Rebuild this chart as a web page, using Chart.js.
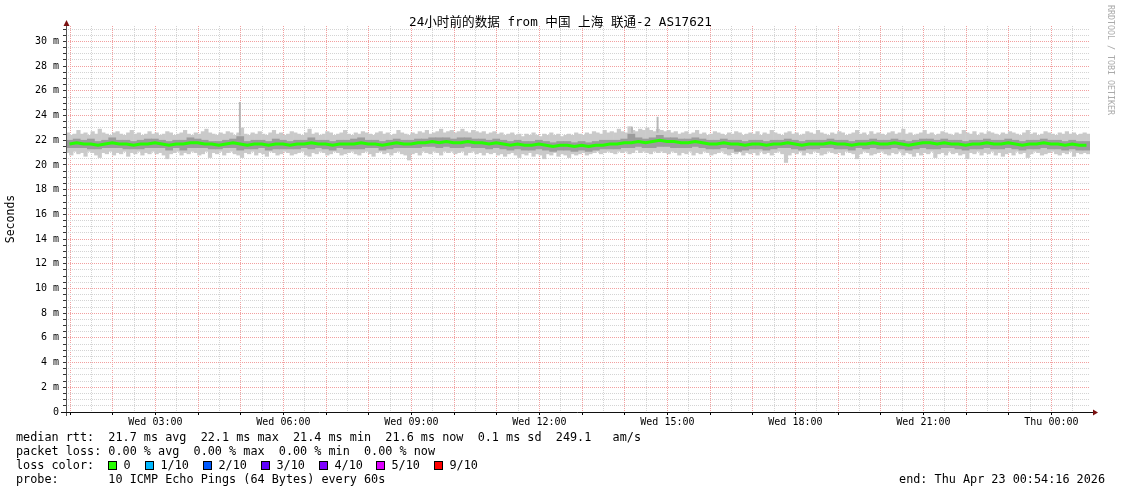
<!DOCTYPE html>
<html>
<head>
<meta charset="utf-8">
<script src="https://cdn.jsdelivr.net/npm/chart.js@4/dist/chart.umd.min.js"></script>
<style>
html, body { margin: 0; padding: 0; background: #fff; }
</style>
</head>
<body>
<canvas id="grafica" width="1121" height="494"></canvas>
<script>
// eje de tiempo en horas desde Wed 00:00
var inicio = 0.9045;   // Wed 00:54:16
var fin = 24.9045;     // Thu 00:54:16
var paso = 1 / 6;      // 10 min por muestra (mediana y nucleo)
var pasoHumo = 1 / 12; // 5 min por muestra (humo)

var ticksX = [3, 6, 9, 12, 15, 18, 21, 24];
var etiquetasX = ["Wed 03:00", "Wed 06:00", "Wed 09:00", "Wed 12:00", "Wed 15:00", "Wed 18:00", "Wed 21:00", "Thu 00:00"];
var ticksY = [0, 2, 4, 6, 8, 10, 12, 14, 16, 18, 20, 22, 24, 26, 28, 30];
var etiquetasY = ["0", "2 m", "4 m", "6 m", "8 m", "10 m", "12 m", "14 m", "16 m", "18 m", "20 m", "22 m", "24 m", "26 m", "28 m", "30 m"];

// mediana rtt (ms)
var mediana = [
  21.7,21.8,21.7,21.7,21.6,21.7,21.8,21.7,21.7,21.6,21.7,21.7,21.8,21.7,21.6,21.7,21.7,21.8,21.8,21.7,21.7,21.6,21.7,21.8,
  21.7,21.6,21.7,21.7,21.6,21.7,21.7,21.6,21.7,21.7,21.8,21.7,21.7,21.6,21.7,21.7,21.7,21.8,21.7,21.7,21.6,21.7,21.8,21.7,
  21.7,21.8,21.8,21.9,21.8,21.9,21.8,21.8,21.9,21.8,21.8,21.7,21.8,21.7,21.6,21.7,21.6,21.6,21.7,21.6,21.5,21.6,21.6,21.5,
  21.6,21.5,21.6,21.6,21.7,21.7,21.8,21.8,21.9,21.8,21.9,22.0,21.9,21.9,21.8,21.8,21.9,21.8,21.7,21.7,21.8,21.7,21.7,21.6,
  21.7,21.7,21.6,21.7,21.7,21.8,21.7,21.6,21.7,21.7,21.7,21.8,21.7,21.7,21.6,21.7,21.7,21.8,21.7,21.7,21.8,21.7,21.6,21.7,
  21.8,21.8,21.7,21.8,21.7,21.7,21.6,21.7,21.7,21.8,21.7,21.7,21.8,21.7,21.6,21.7,21.7,21.8,21.7,21.7,21.6,21.7,21.6,21.6
];

// humo exterior, cada 5 min (max / min)
var humoAlto = [
  22.6,22.4,22.5,22.8,22.5,22.6,22.4,22.7,22.5,22.9,22.6,22.5,22.4,22.6,22.7,22.5,22.4,22.6,22.8,22.5,22.6,22.4,22.5,22.7,
  22.5,22.6,22.4,22.5,22.7,22.6,22.4,22.5,22.6,22.8,22.5,22.4,22.6,22.5,22.7,22.9,22.6,22.5,22.4,22.6,22.5,22.7,22.6,22.4,
  22.6,23.0,22.5,22.4,22.6,22.5,22.7,22.5,22.4,22.6,22.8,22.5,22.6,22.4,22.5,22.7,22.6,22.5,22.4,22.6,22.9,22.5,22.6,22.4,
  22.5,22.7,22.6,22.4,22.5,22.6,22.8,22.5,22.4,22.6,22.5,22.7,22.6,22.5,22.4,22.6,22.7,22.5,22.6,22.4,22.5,22.8,22.6,22.5,
  22.4,22.6,22.5,22.7,22.6,22.8,22.5,22.6,22.7,22.9,22.6,22.7,22.8,22.6,22.7,22.9,22.7,22.6,22.8,22.7,22.6,22.7,22.5,22.6,
  22.7,22.5,22.6,22.4,22.5,22.6,22.4,22.5,22.3,22.5,22.4,22.6,22.4,22.3,22.5,22.4,22.6,22.4,22.5,22.3,22.4,22.5,22.4,22.6,
  22.5,22.4,22.6,22.5,22.7,22.6,22.5,22.8,22.6,22.7,22.6,22.9,22.7,22.6,23.1,22.8,22.7,22.9,22.8,23.0,22.8,22.7,22.9,22.8,
  22.7,22.8,22.6,22.7,22.5,22.6,22.7,22.5,22.6,22.8,22.5,22.6,22.4,22.5,22.7,22.6,22.5,22.4,22.6,22.5,22.7,22.6,22.4,22.5,
  22.6,22.5,22.7,22.4,22.6,22.5,22.8,22.6,22.5,22.4,22.6,22.7,22.5,22.6,22.4,22.5,22.7,22.6,22.5,22.8,22.6,22.5,22.4,22.6,
  22.5,22.7,22.6,22.4,22.5,22.6,22.8,22.5,22.6,22.4,22.7,22.5,22.6,22.5,22.4,22.6,22.7,22.5,22.6,22.9,22.5,22.6,22.4,22.5,
  22.6,22.8,22.5,22.6,22.4,22.5,22.7,22.6,22.5,22.4,22.6,22.5,22.8,22.6,22.5,22.7,22.4,22.6,22.5,22.7,22.6,22.5,22.4,22.6,
  22.5,22.7,22.6,22.5,22.4,22.6,22.8,22.5,22.6,22.4,22.5,22.7,22.6,22.5,22.4,22.6,22.5,22.7,22.5,22.6,22.4,22.5,22.6,22.5
];
var humoBajo = [
  21.0,20.8,21.1,20.9,21.0,20.7,21.1,21.0,20.8,20.6,21.0,20.9,21.1,20.8,21.0,20.9,21.1,20.7,21.0,20.9,21.1,20.8,21.0,20.9,
  21.1,20.9,21.0,20.8,20.5,20.9,21.0,21.1,20.8,21.0,20.9,21.1,21.0,20.8,20.9,21.1,20.6,21.0,20.9,21.1,20.8,21.0,21.1,20.9,
  20.8,20.6,21.0,20.9,21.1,20.8,21.0,20.9,20.7,21.1,21.0,20.8,20.9,21.1,21.0,20.8,20.9,21.0,21.1,20.8,20.7,21.0,20.9,21.1,
  21.0,20.8,20.9,21.1,21.0,20.8,20.9,21.0,21.1,20.9,20.8,21.0,21.1,20.9,20.7,21.0,21.1,20.9,21.0,20.8,21.0,21.1,20.9,20.8,
  20.4,20.9,21.0,20.8,21.1,21.0,20.9,21.1,21.0,20.8,21.1,21.0,21.1,20.9,21.0,21.1,20.8,21.0,21.1,20.9,21.0,20.8,21.0,20.9,
  21.0,20.8,20.9,20.7,20.9,21.0,20.8,20.6,20.9,20.8,21.0,20.7,20.9,20.8,20.5,20.9,20.8,21.0,20.7,20.9,20.8,20.6,20.9,20.8,
  20.9,21.0,20.8,20.9,21.0,21.1,20.9,21.0,21.1,21.0,20.9,21.1,21.0,21.1,20.9,21.0,21.2,21.0,21.1,21.0,20.9,21.1,21.0,21.1,
  21.0,20.9,21.1,21.0,20.8,21.0,20.9,21.1,20.8,21.0,20.9,21.1,21.0,20.8,20.9,21.0,21.1,20.9,20.8,21.0,20.9,21.1,20.8,21.0,
  20.9,21.0,20.8,21.1,20.9,21.0,20.8,21.0,21.1,20.9,20.2,20.8,21.0,20.9,21.1,20.8,21.0,20.9,21.1,21.0,20.8,20.9,21.1,21.0,
  20.9,21.0,20.8,21.1,21.0,20.9,20.5,20.9,21.1,21.0,20.8,20.9,21.0,21.1,20.9,20.8,21.0,20.9,21.1,20.8,21.0,20.9,20.7,21.0,
  20.8,21.0,20.9,21.1,20.6,20.9,21.0,20.8,21.1,20.9,21.0,20.8,20.9,20.5,21.0,20.9,21.1,20.8,21.0,20.9,21.1,20.8,21.0,20.7,
  20.9,21.0,20.8,21.1,20.9,21.0,20.6,20.9,21.1,21.0,20.8,20.9,21.0,21.1,20.9,20.8,21.0,20.9,21.1,20.7,21.0,20.9,21.0,20.9
];

// humo interior (mas oscuro), cada 10 min
var nucleoAlto = [
  22.0,22.1,22.0,22.1,21.9,22.0,22.2,22.0,22.0,21.9,22.0,22.1,22.1,22.0,21.9,22.0,22.0,22.2,22.1,22.0,21.9,21.9,22.0,22.1,
  22.3,21.9,22.0,22.0,21.9,22.1,22.0,21.9,22.0,22.0,22.2,22.0,22.0,21.9,22.0,22.0,22.1,22.2,22.0,22.0,21.9,22.0,22.1,22.0,
  22.0,22.1,22.1,22.2,22.2,22.2,22.1,22.2,22.2,22.1,22.1,22.0,22.1,22.0,21.9,22.0,21.9,21.9,22.0,21.9,21.8,21.9,21.9,21.8,
  21.9,21.8,21.9,22.0,22.0,22.0,22.1,22.5,22.2,22.1,22.2,22.4,22.2,22.2,22.1,22.1,22.2,22.1,22.0,22.0,22.1,22.0,22.0,21.9,
  22.0,22.0,21.9,22.0,22.0,22.1,22.0,21.9,22.0,22.0,22.0,22.1,22.0,22.0,21.9,22.0,22.0,22.1,22.0,22.0,22.1,22.0,21.9,22.0,
  22.1,22.1,22.0,22.1,22.0,22.0,21.9,22.0,22.0,22.1,22.0,22.0,22.1,22.0,21.9,22.0,22.0,22.1,22.0,22.0,21.9,22.0,21.9,21.9
];
var nucleoBajo = [
  21.4,21.4,21.4,21.3,21.3,21.4,21.4,21.4,21.3,21.3,21.3,21.4,21.4,21.4,21.2,21.4,21.2,21.4,21.4,21.4,21.3,21.3,21.4,21.4,
  21.2,21.3,21.3,21.4,21.2,21.3,21.3,21.3,21.3,21.4,21.3,21.4,21.3,21.2,21.4,21.3,21.3,21.3,21.4,21.4,21.2,21.3,21.4,21.4,
  21.4,21.4,21.5,21.5,21.4,21.5,21.4,21.4,21.5,21.4,21.4,21.3,21.4,21.3,21.2,21.3,21.2,21.2,21.3,21.2,21.1,21.2,21.2,21.1,
  21.2,21.1,21.2,21.3,21.3,21.3,21.4,21.4,21.5,21.4,21.4,21.5,21.5,21.4,21.4,21.4,21.5,21.4,21.3,21.3,21.4,21.3,21.1,21.2,
  21.3,21.3,21.2,21.3,21.4,21.4,21.3,21.2,21.3,21.3,21.4,21.4,21.3,21.3,21.2,21.4,21.3,21.4,21.3,21.3,21.4,21.3,21.2,21.3,
  21.4,21.3,21.3,21.4,21.4,21.3,21.2,21.3,21.3,21.4,21.3,21.3,21.4,21.3,21.2,21.3,21.3,21.4,21.3,21.3,21.2,21.3,21.2,21.2
];

// picos sueltos
var picoHora = [4.98, 14.17, 14.77];
var picoBajo = [22.4, 22.6, 22.6];
var picoAlto = [25.1, 23.1, 23.9];

var perdidaNombres = ["0", "1/10", "2/10", "3/10", "4/10", "5/10", "9/10"];
var perdidaColores = ["#26ff00", "#00b8ff", "#0059ff", "#5e00ff", "#7e00ff", "#dd00ff", "#ff0000"];

var mono = '"DejaVu Sans Mono", monospace';
var rojoGrid = '#f2a0a0';
var grisGrid = '#d4d4d4';

var puntosExt = humoAlto.map(function (v, i) { return { x: inicio + (i + 0.5) * pasoHumo, y: [humoBajo[i], v] }; });
var puntosInt = nucleoAlto.map(function (v, i) { return { x: inicio + (i + 0.5) * paso, y: [nucleoBajo[i], v] }; });
var puntosMed = mediana.map(function (v, i) { return { x: inicio + (i + 0.5) * paso, y: v }; });
var puntosPico = picoHora.map(function (h, i) { return { x: h, y: [picoBajo[i], picoAlto[i]] }; });

var ticksMenoresX = [];
for (var h = 2; h <= 49; h++) ticksMenoresX.push(h / 2);
var ticksMenoresY = [];
for (var v = 0; v <= 62; v++) ticksMenoresY.push(v / 2);

var textos = {
  id: 'textos',
  afterDraw: function (chart) {
    var ctx = chart.ctx;
    var a = chart.chartArea;
    ctx.save();

    // ejes
    ctx.strokeStyle = '#555';
    ctx.lineWidth = 1;
    ctx.beginPath();
    ctx.moveTo(a.left + 0.5, a.top - 3);
    ctx.lineTo(a.left + 0.5, a.bottom + 4);
    ctx.stroke();
    ctx.strokeStyle = '#111';
    ctx.beginPath();
    ctx.moveTo(a.left - 5, a.bottom + 0.5);
    ctx.lineTo(a.right + 4, a.bottom + 0.5);
    ctx.stroke();
    ctx.fillStyle = '#7a1010';
    ctx.beginPath();
    ctx.moveTo(a.left + 0.5, a.top - 6);
    ctx.lineTo(a.left - 2.5, a.top);
    ctx.lineTo(a.left + 3.5, a.top);
    ctx.closePath();
    ctx.fill();
    ctx.beginPath();
    ctx.moveTo(a.right + 8, a.bottom + 0.5);
    ctx.lineTo(a.right + 3, a.bottom - 2.5);
    ctx.lineTo(a.right + 3, a.bottom + 3.5);
    ctx.closePath();
    ctx.fill();

    // titulo
    ctx.fillStyle = '#000';
    ctx.textBaseline = 'middle';
    ctx.textAlign = 'center';
    ctx.font = '12.6px ' + mono + ', "Noto Sans CJK SC"';
    ctx.fillText('24小时前的数据 from 中国 上海 联通-2 AS17621', 560.5, 22.5);

    // titulo eje y
    ctx.font = '11.5px ' + mono;
    ctx.save();
    ctx.translate(11.5, 219);
    ctx.rotate(-Math.PI / 2);
    ctx.fillText('Seconds', 0, 0);
    ctx.restore();

    // marca rrdtool
    ctx.save();
    ctx.fillStyle = '#aaa';
    ctx.font = '8.3px ' + mono;
    ctx.translate(1110, 5);
    ctx.rotate(Math.PI / 2);
    ctx.textAlign = 'left';
    ctx.fillText('RRDTOOL / TOBI OETIKER', 0, 0);
    ctx.restore();

    // leyenda inferior
    ctx.textAlign = 'left';
    ctx.font = '11.8px ' + mono;
    ctx.fillStyle = '#000';
    ctx.fillText('median rtt:  21.7 ms avg  22.1 ms max  21.4 ms min  21.6 ms now  0.1 ms sd  249.1   am/s', 16, 438);
    ctx.fillText('packet loss: 0.00 % avg  0.00 % max  0.00 % min  0.00 % now', 16, 452);
    ctx.fillText('loss color:', 16, 466);
    var cajaX = [108.5, 145.5, 203.5, 261.5, 319.5, 376.5, 434.5];
    for (var k = 0; k < perdidaNombres.length; k++) {
      ctx.fillStyle = perdidaColores[k];
      ctx.fillRect(cajaX[k], 461.5, 8, 8);
      ctx.strokeStyle = '#000';
      ctx.strokeRect(cajaX[k], 461.5, 8, 8);
      ctx.fillStyle = '#000';
      ctx.fillText(perdidaNombres[k], cajaX[k] + 15, 466);
    }
    ctx.fillText('probe:       10 ICMP Echo Pings (64 Bytes) every 60s', 16, 480);
    ctx.textAlign = 'right';
    ctx.fillText('end: Thu Apr 23 00:54:16 2026', 1105, 480);
    ctx.restore();
  }
};

var ctxG = document.getElementById('grafica').getContext('2d');
var grafica = new Chart(ctxG, {
  type: 'bar',
  data: {
    datasets: [
      {
        type: 'line',
        data: puntosMed,
        borderColor: '#26ff00',
        borderWidth: 3,
        pointRadius: 0,
        tension: 0,
        order: 0
      },
      {
        data: puntosPico,
        xAxisID: 'xPico',
        backgroundColor: '#b8b8b8',
        maxBarThickness: 2,
        grouped: false,
        order: 1
      },
      {
        data: puntosInt,
        xAxisID: 'xNucleo',
        backgroundColor: '#9c9c9c',
        grouped: false,
        barPercentage: 1,
        categoryPercentage: 1,
        order: 2
      },
      {
        data: puntosExt,
        backgroundColor: '#cacaca',
        grouped: false,
        barPercentage: 1,
        categoryPercentage: 1,
        order: 3
      }
    ]
  },
  options: {
    responsive: false,
    devicePixelRatio: 1,
    animation: false,
    layout: { padding: { top: 26, right: 31, left: 0, bottom: 0 } },
    plugins: { legend: { display: false }, title: { display: false }, tooltip: { enabled: false } },
    scales: {
      x: {
        type: 'linear',
        min: inicio,
        max: fin,
        offset: false,
        afterFit: function (s) { s.height = 82; },
        afterBuildTicks: function (s) { s.ticks = ticksMenoresX.map(function (t) { return { value: t }; }); },
        ticks: {
          autoSkip: false,
          maxRotation: 0,
          padding: 1,
          color: '#000',
          font: { family: mono, size: 10 },
          callback: function (val) {
            var k = ticksX.indexOf(val);
            return k >= 0 ? etiquetasX[k] : '';
          }
        },
        grid: {
          offset: false,
          tickLength: 3,
          color: function (c) { return ticksMenoresX[c.index] % 1 === 0 ? rojoGrid : grisGrid; },
          tickColor: function (c) { return ticksMenoresX[c.index] % 1 === 0 ? '#000' : 'rgba(0,0,0,0)'; }
        },
        border: { display: false, dash: [1, 1] }
      },
      xNucleo: {
        type: 'linear', display: false, min: inicio, max: fin, offset: false, grid: { offset: false }
      },
      xPico: {
        type: 'linear', display: false, min: inicio, max: fin, offset: false, grid: { offset: false }
      },
      y: {
        min: 0,
        max: 31.25,
        afterFit: function (s) { s.width = 66; },
        afterBuildTicks: function (s) { s.ticks = ticksMenoresY.map(function (t) { return { value: t }; }); },
        ticks: {
          autoSkip: false,
          padding: 4,
          color: '#000',
          font: { family: mono, size: 10 },
          callback: function (val) {
            var k = ticksY.indexOf(val);
            return k >= 0 ? etiquetasY[k] : '';
          }
        },
        grid: {
          tickLength: 3,
          color: function (c) { return ticksMenoresY[c.index] % 2 === 0 ? rojoGrid : grisGrid; },
          tickColor: '#333'
        },
        border: { display: false, dash: [1, 1] }
      }
    }
  },
  plugins: [textos]
});
</script>
</body>
</html>
